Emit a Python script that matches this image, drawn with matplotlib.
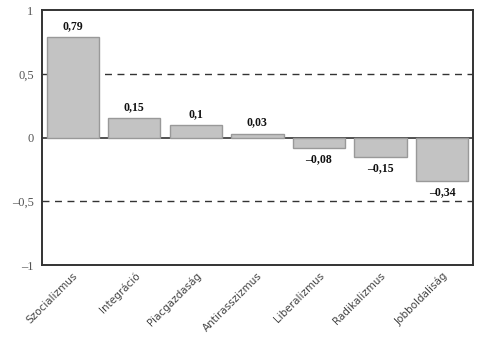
import matplotlib.pyplot as plt

# === Data ===
categories = ["Szocializmus", "Integráció", "Piacgazdaság", "Antirasszizmus",
              "Liberalizmus", "Radikalizmus", "Jobboldaliság"]
values = [0.79, 0.15, 0.1, 0.03, -0.08, -0.15, -0.34]
value_labels = ["0,79", "0,15", "0,1", "0,03", "–0,08", "–0,15", "–0,34"]
yticks = [-1, -0.5, 0, 0.5, 1]
ytick_labels = ["–1", "–0,5", "0", "0,5", "1"]

# === Plot ===
fig = plt.figure(figsize=(4.8, 3.39), dpi=100)
ax = fig.add_axes([0.0875, 0.218, 0.8975, 0.7525])

for y in (0.5, -0.5):
    ax.axhline(y, color="#333333", linestyle=(0, (5, 4)), linewidth=1.0, zorder=1)
ax.axhline(0, color="#333333", linewidth=1.2, zorder=1)

x = range(len(categories))
ax.bar(x, values, width=0.85, color="#c3c3c3", edgecolor="#999999",
       linewidth=1.0, zorder=2)

for i, (v, lab) in enumerate(zip(values, value_labels)):
    if v >= 0:
        ax.text(i, v + 0.04, lab, ha="center", va="bottom", fontsize=8.5,
                fontweight="bold", family="Liberation Serif", color="#111111")
    else:
        ax.text(i, v - 0.04, lab, ha="center", va="top", fontsize=8.5,
                fontweight="bold", family="Liberation Serif", color="#111111")

ax.set_xlim(-0.5, len(categories) - 0.5)
ax.set_ylim(-1, 1)
ax.set_yticks(yticks)
ax.set_yticklabels(ytick_labels, family="Liberation Serif", fontsize=9, color="#555555")
ax.set_xticks(list(x))
ax.set_xticklabels(categories, rotation=45, ha="right", rotation_mode="anchor",
                   fontsize=7.5, color="#444444")
ax.tick_params(length=0, pad=6)
ax.tick_params(axis="x", pad=4)

for s in ax.spines.values():
    s.set_color("#333333")
    s.set_linewidth(1.4)

plt.savefig("out.png", dpi=100)
